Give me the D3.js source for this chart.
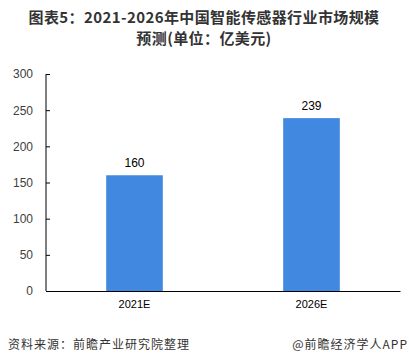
<!DOCTYPE html>
<html>
<head>
<meta charset="utf-8">
<script src="https://cdn.jsdelivr.net/npm/d3@7"></script>
<style>
  body { margin: 0; background: #fff; }
  text { font-family: "Noto Sans CJK SC", "DejaVu Sans", sans-serif; }
  .axis path, .axis line { stroke: #000; }
  .axis text { fill: #404040; font-size: 12px; font-family: "Liberation Sans", "DejaVu Sans", sans-serif; }
</style>
</head>
<body>
<div id="chart"></div>
<script>
const categories = ['2021E', '2026E'];
const values = [160, 239];
const yTicks = [0, 50, 100, 150, 200, 250, 300];
const titleLines = ['图表5：2021-2026年中国智能传感器行业市场规模', '预测(单位：亿美元)'];

const width = 409,
      height = 363,
      margin = {top: 74, right: 9, bottom: 72, left: 46};

const chartWidth = width - margin.left - margin.right,
      chartHeight = height - margin.top - margin.bottom;

const svg = d3.select('#chart').append('svg')
    .attr('width', width)
    .attr('height', height);

// title, two lines
svg.selectAll('.title')
    .data(titleLines)
    .enter().append('text')
    .attr('class', 'title')
    .attr('x', 204)
    .attr('y', (d, i) => 23 + i * 21)
    .attr('text-anchor', 'middle')
    .style('font-size', '15px')
    .style('letter-spacing', '0.4px')
    .style('font-weight', 'bold')
    .style('fill', '#333')
    .text(d => d);

const chart = svg.append('g')
    .attr('transform', `translate(${margin.left}, ${margin.top})`);

let x = d3.scaleBand().domain(categories).range([0, chartWidth]).padding(0);
let y = d3.scaleLinear().domain([0, 300]).range([chartHeight, 0]);

const barWidth = x.bandwidth() * 0.32;

chart.append('g')
    .selectAll('.bar')
    .data(values)
    .enter().append('rect')
    .attr('class', 'bar')
    .attr('x', (d, i) => x(categories[i]) + (x.bandwidth() - barWidth) / 2)
    .attr('y', d => y(d))
    .attr('width', barWidth)
    .attr('height', d => chartHeight - y(d))
    .attr('fill', '#4189E0');

// value labels
chart.append('g')
    .selectAll('.value-label')
    .data(values)
    .enter().append('text')
    .attr('class', 'value-label')
    .attr('x', (d, i) => x(categories[i]) + x.bandwidth() / 2)
    .attr('y', d => y(d) - 8)
    .attr('text-anchor', 'middle')
    .style('font-size', '12px')
    .style('font-family', '"Liberation Sans", "DejaVu Sans", sans-serif')
    .style('fill', '#000')
    .text(d => d);

let yAxis = d3.axisRight(y)
    .tickValues(yTicks)
    .tickSize(4)
    .tickPadding(0);

const yg = chart.append('g')
    .attr('class', 'axis axis--y')
    .call(yAxis);
yg.select('.domain').attr('d', `M0,0V${chartHeight}`);
yg.selectAll('text')
    .attr('x', -13)
    .attr('text-anchor', 'end');

let xAxis = d3.axisBottom(x).tickSize(0).tickPadding(9);

const xg = chart.append('g')
    .attr('class', 'axis axis--x')
    .attr('transform', `translate(0, ${chartHeight})`)
    .call(xAxis);
xg.selectAll('text').style('font-size', '11px').style('fill', '#000');

// footer
svg.append('text')
    .attr('x', 8)
    .attr('y', 349)
    .style('font-size', '12px')
    .style('letter-spacing', '1px')
    .style('fill', '#333')
    .text('资料来源：前瞻产业研究院整理');

svg.append('text')
    .attr('x', 408)
    .attr('y', 349)
    .attr('text-anchor', 'end')
    .style('font-size', '12px')
    .style('letter-spacing', '1px')
    .style('fill', '#333')
    .text('@前瞻经济学人APP');
</script>
</body>
</html>
